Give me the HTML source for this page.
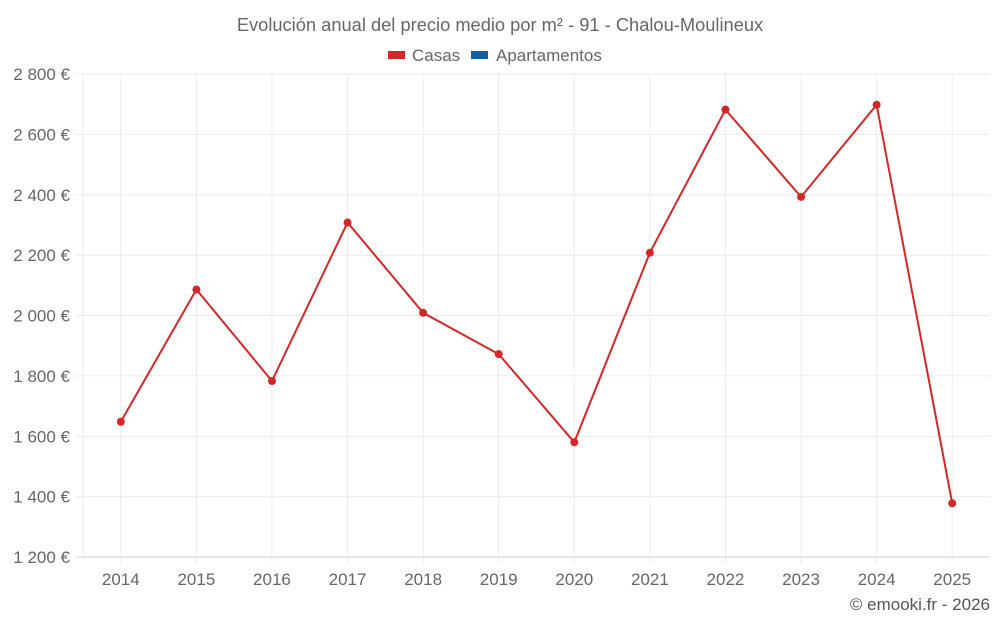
<!DOCTYPE html>
<html><head><meta charset="utf-8"><style>
body{margin:0;background:#fff;width:1000px;height:625px;overflow:hidden;font-family:"Liberation Sans",sans-serif}
</style></head><body>
<svg id="chart" width="1000" height="625" xmlns="http://www.w3.org/2000/svg" font-family="Liberation Sans, sans-serif">
<text x="500" y="31" text-anchor="middle" font-size="18.3" fill="#666">Evolución anual del precio medio por m² - 91 - Chalou-Moulineux</text>
<g><rect x="388" y="51" width="17" height="8" fill="#d62728"/><text x="412" y="61" font-size="17" fill="#666">Casas</text></g>
<g><rect x="471" y="51" width="17" height="8" fill="#1060a0"/><text x="496" y="61" font-size="17" fill="#666">Apartamentos</text></g>
<g id="grid"></g><g id="axes"></g><g id="series"></g>
<text x="990" y="610" text-anchor="end" font-size="17" fill="#555">© emooki.fr - 2026</text>
</svg>
<script>
const categories=["2014","2015","2016","2017","2018","2019","2020","2021","2022","2023","2024","2025"];
const casas=[1648,2086,1783,2308,2009,1872,1580,2208,2682,2393,2698,1378];
const yTicks=[1200,1400,1600,1800,2000,2200,2400,2600,2800];
const yTickLabels=["1 200 €","1 400 €","1 600 €","1 800 €","2 000 €","2 200 €","2 400 €","2 600 €","2 800 €"];
const L=83,R=990,T=74,B=557,yMin=1200,yMax=2800;
const NS="http://www.w3.org/2000/svg";
const y=v=>B-(v-yMin)/(yMax-yMin)*(B-T);
const band=(R-L)/categories.length;
const x=i=>L+band*(i+0.5);
function mk(t,a,p){const e=document.createElementNS(NS,t);for(const k in a)e.setAttribute(k,a[k]);p.appendChild(e);return e;}
const g=document.getElementById('grid'),ax=document.getElementById('axes'),s=document.getElementById('series');
yTicks.forEach((v,i)=>{
 const l=mk('line',{x1:76,x2:R,y1:y(v),y2:y(v),stroke:i==0?'#ccc':'#ebebeb','stroke-width':1},g);
 
 
 const t=mk('text',{x:70,y:y(v)+6,'text-anchor':'end','font-size':17,fill:'#666'},ax);
 t.textContent=yTickLabels[i];
 
 
});
const vl=mk('line',{x1:L,x2:L,y1:T,y2:B,stroke:'#ebebeb'},g);


categories.forEach((c,i)=>{
 const l=mk('line',{x1:x(i),x2:x(i),y1:T,y2:B+6,stroke:'#ebebeb'},g);
 
 
 const t=mk('text',{x:x(i),y:585,'text-anchor':'middle','font-size':17,fill:'#666'},ax);
 t.textContent=c;
 
 
});
const pl=mk('polyline',{points:casas.map((v,i)=>x(i)+','+y(v)).join(' '),fill:'none',stroke:'#d62728','stroke-width':2},s);


casas.forEach((v,i)=>{
 const c=mk('circle',{cx:x(i),cy:y(v),r:4,fill:'#d62728'},s);
 
 
});
</script>
</body></html>
